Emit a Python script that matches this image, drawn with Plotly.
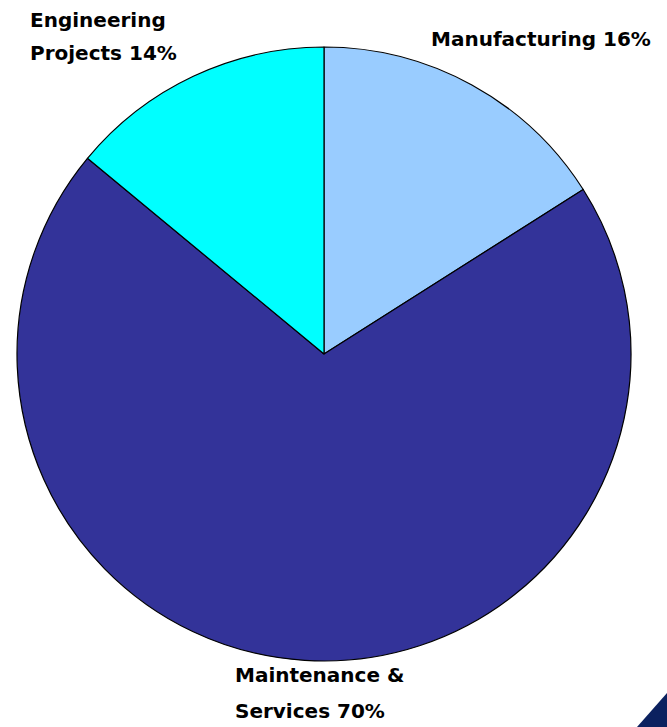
import plotly.graph_objects as go

# Revenue split by business segment
segments = ["Manufacturing", "Maintenance & Services", "Engineering Projects"]
shares = [16, 70, 14]
colors = ["#99CCFF", "#333399", "#00FFFF"]

# Label lines per segment (the share is appended to the last line)
label_lines = [["Manufacturing"], ["Maintenance &", "Services"], ["Engineering", "Projects"]]
# label anchor (paper x, list of paper y per line)
label_pos = [
    (0.6435, [0.946]),
    (0.3495, [0.072, 0.022]),
    (0.0415, [0.972, 0.927]),
]

W, H = 667, 727

fig = go.Figure(
    go.Pie(
        labels=segments,
        values=shares,
        sort=False,
        direction="clockwise",
        rotation=0,
        marker=dict(colors=colors, line=dict(color="#000000", width=1.2)),
        textinfo="none",
        hoverinfo="label+percent",
        showlegend=False,
        domain=dict(x=[17 / W, 631 / W], y=[1 - 661 / H, 1 - 47 / H]),
    )
)

annotations = []
for lines, value, (x, ys) in zip(label_lines, shares, label_pos):
    for i, (line, y) in enumerate(zip(lines, ys)):
        text = f"{line} {value}%" if i == len(lines) - 1 else line
        annotations.append(
            dict(
                text=f"<b>{text}</b>",
                x=x,
                y=y,
                xref="paper",
                yref="paper",
                xanchor="left",
                yanchor="middle",
                showarrow=False,
                font=dict(family="DejaVu Sans", size=20, color="#000000"),
            )
        )

fig.update_layout(
    width=W,
    height=H,
    margin=dict(l=0, r=0, t=0, b=0),
    paper_bgcolor="#FFFFFF",
    plot_bgcolor="#FFFFFF",
    annotations=annotations,
    shapes=[
        dict(
            type="path",
            xref="paper",
            yref="paper",
            path=f"M {637 / W} 0 L 1 {34 / H} L 1 0 Z",
            fillcolor="#0B215F",
            line=dict(width=0),
            layer="above",
        )
    ],
)

fig.write_html("out.html")
